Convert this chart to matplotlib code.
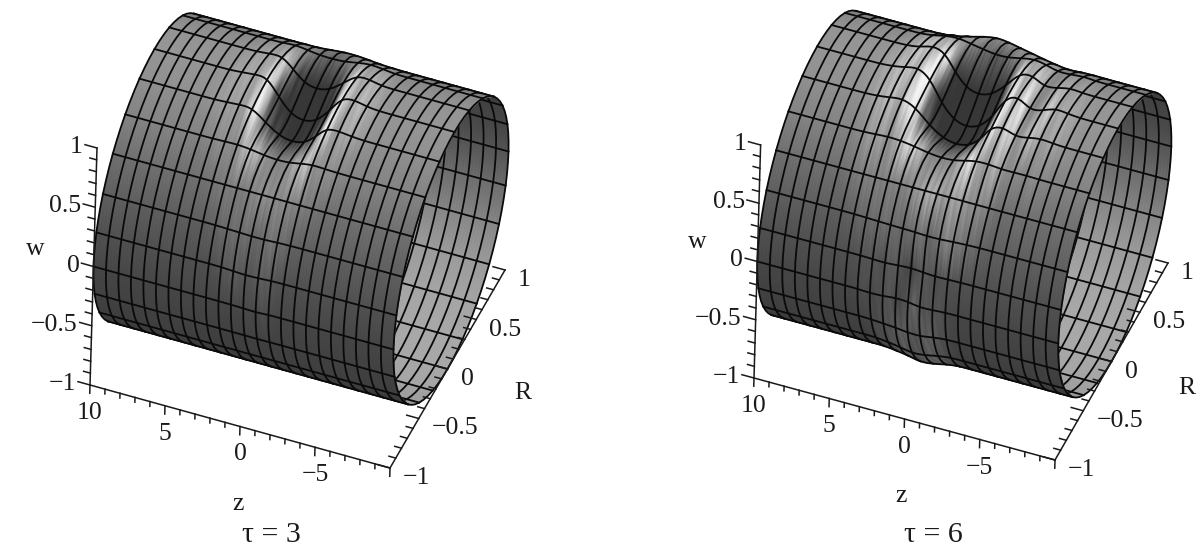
import numpy as np
import matplotlib
matplotlib.use("Agg")
import matplotlib.pyplot as plt

plt.rcParams['font.family'] = ['Liberation Serif', 'DejaVu Sans']

# mesh of the tube
z_nodes = [10 - i * 20 / 24 for i in range(25)]
theta_front = list(range(45, 226, 15))
theta_back = list(range(-135, 46, 15))

# gray level read per ring position
gray_front = [115, 135, 148, 150, 145, 132, 112, 95, 80, 70, 65, 62, 58]
gray_back = [150, 158, 165, 168, 168, 165, 155, 135, 110, 85, 70, 65, 60]

# radial displacement around the dent
# rows: theta_front, columns: patch_z
patch_z = [5, 4.17, 3.33, 2.5, 1.67, 0.83, 0, -0.83, -1.67, -2.5, -3.33, -4.17, -5, -5.83, -6.67]
dr_tau3 = [
    [0, 0, 0, 0, 0, .01, .02, .02, .01, 0, 0, 0, 0, 0, 0],
    [0, 0, 0, .01, .01, .01, .01, .01, .02, .02, .01, 0, 0, 0, 0],
    [0, 0, .01, .02, -.05, -.13, -.15, -.13, -.05, .03, .02, 0, 0, 0, 0],
    [0, .01, .02, .03, -.13, -.25, -.28, -.25, -.13, .03, .04, .01, 0, 0, 0],
    [0, .01, .02, .03, -.13, -.25, -.28, -.25, -.13, .03, .03, .01, 0, 0, 0],
    [0, 0, .01, .02, .02, -.03, -.06, -.05, 0, .03, .01, 0, 0, 0, 0],
    [0, 0, 0, .01, .02, .03, .04, .05, .03, .01, 0, 0, 0, 0, 0],
    [0, 0, 0, 0, .01, .02, .03, .03, .01, 0, 0, 0, 0, 0, 0],
    [0, 0, 0, 0, 0, .01, .02, .01, 0, 0, 0, 0, 0, 0, 0],
    [0, 0, 0, 0, 0, 0, 0, .01, 0, 0, 0, 0, 0, 0, 0],
    [0, 0, 0, 0, 0, 0, 0, 0, 0, 0, 0, 0, 0, 0, 0],
    [0, 0, 0, 0, 0, 0, 0, 0, 0, 0, 0, 0, 0, 0, 0],
    [0, 0, 0, 0, 0, 0, 0, 0, 0, 0, 0, 0, 0, 0, 0],
]
dr_tau6 = [
    [0, 0, .01, .03, .06, .08, .07, .05, .03, .01, 0, -.01, 0, 0, 0],
    [0, .01, .03, .04, .04, .04, .03, .03, .04, .04, .02, 0, 0, .01, 0],
    [0, .01, .05, .03, -.10, -.20, -.23, -.20, -.10, .03, .03, -.03, -.01, .01, 0],
    [.01, .03, .06, -.01, -.22, -.33, -.36, -.33, -.22, -.01, .05, -.06, -.03, .03, .01],
    [.01, .03, .06, -.01, -.22, -.33, -.36, -.33, -.22, -.01, .05, -.04, 0, .03, .01],
    [0, .02, .04, .04, .02, -.05, -.09, -.08, -.01, .04, .04, .01, .01, .01, 0],
    [0, .01, .02, .03, .04, .05, .07, .09, .08, .04, .02, 0, 0, 0, 0],
    [0, 0, .01, .02, .03, .04, .05, .07, .06, .03, .01, 0, 0, 0, 0],
    [0, 0, 0, 0, .01, -.01, -.03, -.02, 0, 0, 0, 0, 0, 0, 0],
    [0, 0, 0, .01, 0, -.02, -.01, .02, .01, 0, 0, 0, 0, 0, 0],
    [0, 0, 0, 0, .01, .02, .03, .03, .01, 0, 0, 0, 0, 0, 0],
    [0, 0, 0, 0, .01, .02, .04, .03, .01, 0, 0, 0, 0, 0, 0],
    [0, 0, 0, 0, .01, .02, .04, .03, .01, 0, 0, 0, 0, 0, 0],
]

z_major = [10, 5, 0, -5]
z_labels = ['10', '5', '0', '\u22125']
r_major = [1, 0.5, 0, -0.5, -1]
r_labels = ['1', '0.5', '0', '\u22120.5', '\u22121']
w_major = [1, 0.5, 0, -0.5, -1]
w_labels = ['1', '0.5', '0', '\u22120.5', '\u22121']

SUB_T = 3   # curve steps per ring cell
SUB_Z = 4   # shading steps per axial cell


def project(view, z, r, w):
    z = np.asarray(z) + 10
    r = np.asarray(r) + 1
    w = np.asarray(w) + 1
    x = view['o'][0] + z * view['z'][0] + r * view['r'][0] + w * view['w'][0]
    y = view['o'][1] + z * view['z'][1] + r * view['r'][1] + w * view['w'][1]
    return x, y


def smooth(a, axis):
    edge = np.take(a, [0], axis=axis)
    end = np.take(a, [-1], axis=axis)
    b = np.concatenate([edge, a, end], axis=axis)
    lo = np.take(b, range(0, b.shape[axis] - 2), axis=axis)
    mid = np.take(b, range(1, b.shape[axis] - 1), axis=axis)
    hi = np.take(b, range(2, b.shape[axis]), axis=axis)
    return (lo + 2 * mid + hi) / 4


def fine_displacement(thetas, table):
    # table values on the mesh, eased onto a finer mesh for drawing
    th = np.array(thetas, dtype=float)
    zs = np.array(z_nodes)
    dr = np.zeros((len(th), len(zs)))
    for i, t in enumerate(th):
        if t in theta_front:
            row = table[theta_front.index(int(t))]
            for j, z in enumerate(zs):
                for k, pz in enumerate(patch_z):
                    if abs(pz - z) < 0.02:
                        dr[i, j] = row[k]
    th_f = np.linspace(th[0], th[-1], (len(th) - 1) * SUB_T + 1)
    zs_f = np.linspace(zs[0], zs[-1], (len(zs) - 1) * SUB_Z + 1)
    a = np.array([np.interp(zs_f, zs[::-1], r[::-1]) for r in dr])
    a = np.array([np.interp(th_f, th, c) for c in a.T]).T
    for n in range(3):
        a = smooth(a, 0)
    for n in range(6):
        a = smooth(a, 1)
    return th_f, zs_f, a


def draw_layer(ax, view, thetas, grays, table, zorder):
    th_f, zs_f, a = fine_displacement(thetas, table)
    tt, zz = np.meshgrid(np.radians(th_f), zs_f, indexing='ij')
    rr = (1 + a) * np.cos(tt)
    ww = (1 + a) * np.sin(tt)
    x, y = project(view, zz, rr, ww)

    # shading: the ring gray plus the slope of the dent, dark on its floor
    slope_t = np.gradient(a, np.radians(th_f), axis=0)
    slope_z = np.gradient(a, zs_f, axis=1)
    base = np.interp(th_f, thetas, grays)[:, None]
    rim = np.clip(1 + a / 0.08, 0, 1)
    g = base + 350 * np.maximum(a, 0) + 650 * np.minimum(a, 0) + 80 * slope_t + 1100 * np.abs(slope_z) * rim

    # saw teeth between the rings, as the fine shading in the picture has
    ii, jj = np.indices(g.shape)
    g = g + 0.25 * np.abs(g - base) * np.where((ii // SUB_T + jj) % 2, 1, -1)
    g = np.clip(g, 55, 245)

    # filled on the ring rows only, so thin teeth run between two rows
    xf, yf, gf = x[::SUB_T], y[::SUB_T], g[::SUB_T]
    df = (-0.682 * rr - 0.28 * zz + 0.676 * ww)[::SUB_T]
    ni, nj = xf.shape
    idx = np.arange(ni * nj).reshape(ni, nj)
    tris = []
    for i in range(ni - 1):
        for j in range(nj - 1):
            tris.append([idx[i, j], idx[i + 1, j], idx[i + 1, j + 1]])
            tris.append([idx[i, j], idx[i + 1, j + 1], idx[i, j + 1]])
    tris = np.array(tris)
    depth = df.ravel()[tris].mean(axis=1)
    tris = tris[np.argsort(depth)]
    ax.tripcolor(xf.ravel(), yf.ravel(), tris, gf.ravel(), shading='gouraud', cmap='gray',
                 vmin=0, vmax=255, zorder=zorder)

    for i in range(0, x.shape[0], SUB_T):
        ax.plot(x[i], y[i], color='#0a0a0a', lw=1.3, zorder=zorder + 0.5)
    for j in range(0, x.shape[1], SUB_Z):
        ax.plot(x[:, j], y[:, j], color='#0a0a0a', lw=1.3, zorder=zorder + 0.5)


def draw_axes(ax, view):
    lw = 1.1
    c = '#1a1a1a'
    fs = 18.5
    # z axis
    x, y = project(view, [10, -10], [-1, -1], [-1, -1])
    ax.plot(x, y, color=c, lw=lw, zorder=5)
    for v in np.arange(-10, 10.5, 1):
        x, y = project(view, [v, v], [-1, -1], [-1, -1.07 if v % 5 == 0 else -1.04])
        ax.plot(x, y, color=c, lw=lw, zorder=5)
    # R axis
    x, y = project(view, [-10, -10], [-1, 1], [-1, -1])
    ax.plot(x, y, color=c, lw=lw, zorder=5)
    for v in np.arange(-1, 1.05, 0.1):
        major = abs(v * 2 - round(v * 2)) < 1e-6
        x, y = project(view, [-10, -10.8 if major else -10.45], [v, v], [-1, -1])
        x[1] = 2 * x[0] - x[1]
        y[1] = 2 * y[0] - y[1]
        ax.plot(x, y, color=c, lw=lw, zorder=5)
    # w axis
    x, y = project(view, [10, 10], [-1, -1], [-1, 1])
    ax.plot(x, y, color=c, lw=lw, zorder=5)
    for v in np.arange(-1, 1.05, 0.1):
        major = abs(v * 2 - round(v * 2)) < 1e-6
        x, y = project(view, [10, 10.8 if major else 10.45], [-1, -1], [v, v])
        ax.plot(x, y, color=c, lw=lw, zorder=5)

    for v, s in zip(z_major, z_labels):
        x, y = project(view, v, -1, -1)
        ax.text(x, y + 28, s, ha='center', va='center', fontsize=fs, color=c)
    for v, s in zip(r_major, r_labels):
        x, y = project(view, -10, v, -1)
        ax.text(x + 13, y + 10, s, ha='left', va='center', fontsize=fs, color=c)
    for v, s in zip(w_major, w_labels):
        x, y = project(view, 10, -1, v)
        ax.text(x - 14, y - 1, s, ha='right', va='center', fontsize=fs, color=c)


views = [
    {'o': (390, 468), 'z': (-15.0, -4.15), 'r': (57.5, -99.0), 'w': (3.5, -118.5),
     'table': dr_tau3, 'title': '\u03c4 = 3', 'w_pos': (35, 249), 'z_pos': (238, 504),
     'r_pos': (523, 393), 'title_x': 271, 'xlim': (0, 598)},
    {'o': (1055, 460), 'z': (-15.05, -4.1), 'r': (56.5, -98.5), 'w': (3.3, -116.5),
     'table': dr_tau6, 'title': '\u03c4 = 6', 'w_pos': (697, 242), 'z_pos': (901, 496),
     'r_pos': (1187, 388), 'title_x': 933, 'xlim': (598, 1196)},
]

fig = plt.figure(figsize=(11.96, 5.49), dpi=100)
for n, view in enumerate(views):
    ax = fig.add_axes([n * 0.5, 0, 0.5, 1])
    draw_layer(ax, view, theta_back, gray_back, view['table'], 1)
    draw_layer(ax, view, theta_front, gray_front, view['table'], 3)
    draw_axes(ax, view)
    for pos, s in [(view['w_pos'], 'w'), (view['z_pos'], 'z'), (view['r_pos'], 'R')]:
        ax.text(pos[0], pos[1], s, ha='center', va='center', fontsize=18.5, color='#1a1a1a')
    ax.text(view['title_x'], 542, view['title'], ha='center', va='baseline', fontsize=21.5, color='#1a1a1a')
    ax.set_xlim(*view['xlim'])
    ax.set_ylim(549, 0)
    ax.axis('off')

fig.savefig('out.png', dpi=100)
